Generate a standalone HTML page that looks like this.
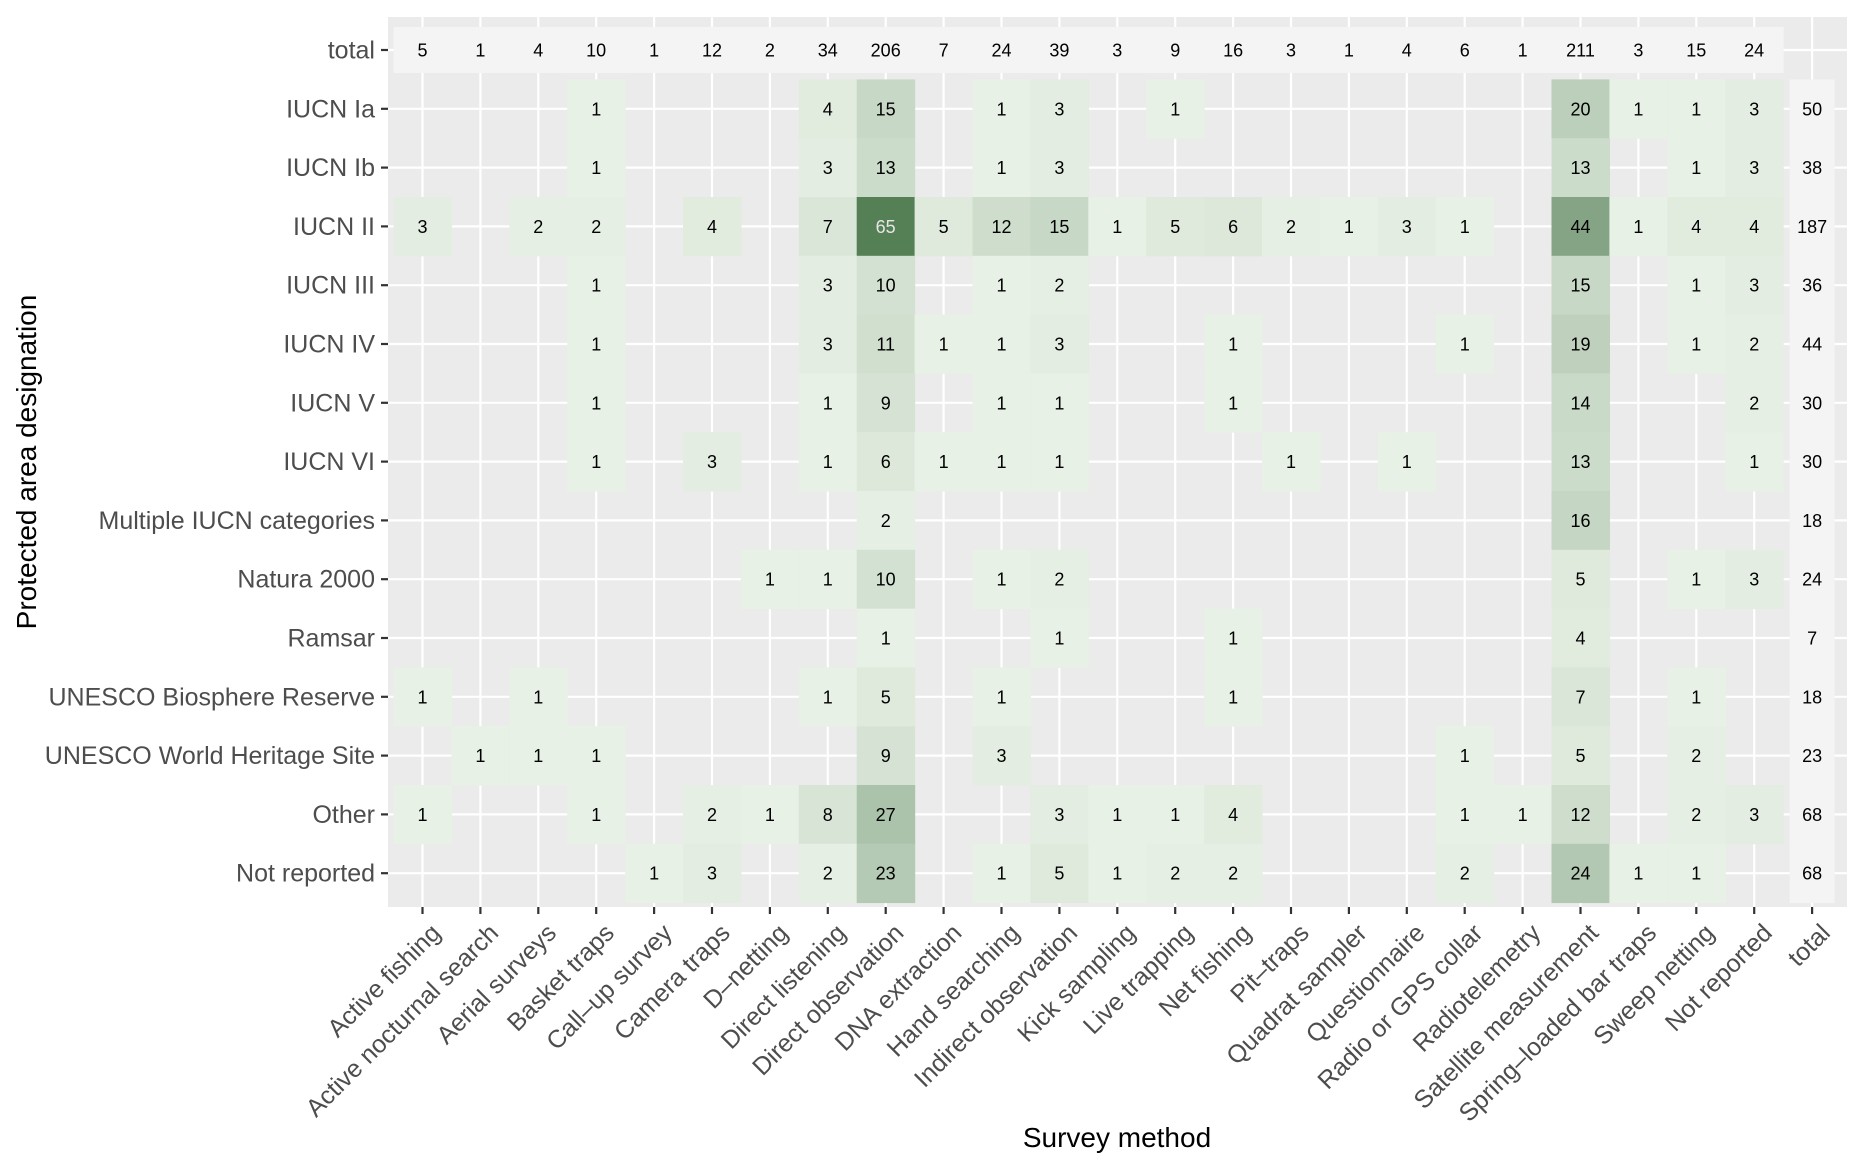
<!DOCTYPE html>
<html><head><meta charset="utf-8"><style>
html,body{margin:0;padding:0;background:#fff;width:1862px;height:1170px;overflow:hidden}
svg{display:block;font-family:"Liberation Sans",sans-serif}
</style></head><body>
<svg id="s" width="1862" height="1170" xmlns="http://www.w3.org/2000/svg"></svg>
<script>
const cols=["Active fishing","Active nocturnal search","Aerial surveys","Basket traps","Call\u2013up survey","Camera traps","D\u2013netting","Direct listening","Direct observation","DNA extraction","Hand searching","Indirect observation","Kick sampling","Live trapping","Net fishing","Pit\u2013traps","Quadrat sampler","Questionnaire","Radio or GPS collar","Radiotelemetry","Satellite measurement","Spring\u2013loaded bar traps","Sweep netting","Not reported","total"];
const rows=["total","IUCN Ia","IUCN Ib","IUCN II","IUCN III","IUCN IV","IUCN V","IUCN VI","Multiple IUCN categories","Natura 2000","Ramsar","UNESCO Biosphere Reserve","UNESCO World Heritage Site","Other","Not reported"];
const totalRow=[5,1,4,10,1,12,2,34,206,7,24,39,3,9,16,3,1,4,6,1,211,3,15,24];
const data=[
[{3:1,7:4,8:15,10:1,11:3,13:1,20:20,21:1,22:1,23:3},50],
[{3:1,7:3,8:13,10:1,11:3,20:13,22:1,23:3},38],
[{0:3,2:2,3:2,5:4,7:7,8:65,9:5,10:12,11:15,12:1,13:5,14:6,15:2,16:1,17:3,18:1,20:44,21:1,22:4,23:4},187],
[{3:1,7:3,8:10,10:1,11:2,20:15,22:1,23:3},36],
[{3:1,7:3,8:11,9:1,10:1,11:3,14:1,18:1,20:19,22:1,23:2},44],
[{3:1,7:1,8:9,10:1,11:1,14:1,20:14,23:2},30],
[{3:1,5:3,7:1,8:6,9:1,10:1,11:1,15:1,17:1,20:13,23:1},30],
[{8:2,20:16},18],
[{6:1,7:1,8:10,10:1,11:2,20:5,22:1,23:3},24],
[{8:1,11:1,14:1,20:4},7],
[{0:1,2:1,7:1,8:5,10:1,14:1,20:7,22:1},18],
[{1:1,2:1,3:1,8:9,10:3,18:1,20:5,22:2},23],
[{0:1,3:1,5:2,6:1,7:8,8:27,11:3,12:1,13:1,14:4,18:1,19:1,20:12,22:2,23:3},68],
[{4:1,5:3,7:2,8:23,10:1,11:5,12:1,13:2,14:2,18:2,20:24,21:1,22:1},68]];
const X0=422.5,DX=57.9,Y0=50,DY=58.8,W=58,H=58.8;
const cx=i=>X0+i*DX, cy=j=>Y0+j*DY;
const lo=[0xe8,0xf1,0xe6],hi=[0x55,0x7f,0x55];
function col(v){const f=(v-1)/64;return "rgb("+lo.map((a,k)=>Math.round(a+(hi[k]-a)*f)).join(",")+")";}
let s="";
const FS=18;
s+=`<rect x="388" y="17" width="1459" height="890" fill="#ebebeb"/>`;
for(let i=0;i<25;i++)s+=`<line x1="${cx(i)}" y1="17" x2="${cx(i)}" y2="907" stroke="#fff" stroke-width="2.2"/>`;
for(let j=0;j<15;j++)s+=`<line x1="388" y1="${cy(j)}" x2="1847" y2="${cy(j)}" stroke="#fff" stroke-width="2.2"/>`;
for(let i=0;i<24;i++){s+=`<rect x="${cx(i)-DX/2}" y="${cy(0)-23}" width="${DX+0.5}" height="46" fill="#f4f4f4"/>`;}
for(let j=1;j<15;j++){s+=`<rect x="${cx(24)-22.5}" y="${cy(j)-DY/2}" width="45" height="${DY+0.5}" fill="#f4f4f4"/>`;}
for(let i=0;i<24;i++)s+=`<text x="${cx(i)}" y="${cy(0)+6.5}" font-size="${FS}" text-anchor="middle" fill="#000">${totalRow[i]}</text>`;
data.forEach((r,k)=>{const j=k+1;
 for(const key in r[0]){const i=+key,v=r[0][key];
  s+=`<rect x="${cx(i)-W/2}" y="${cy(j)-H/2}" width="${W+0.5}" height="${H+0.5}" fill="${col(v)}"/>`;}
});
data.forEach((r,k)=>{const j=k+1;
 for(const key in r[0]){const i=+key,v=r[0][key];
  s+=`<text x="${cx(i)}" y="${cy(j)+6.5}" font-size="${FS}" text-anchor="middle" fill="${v>50?'#e6e6e6':'#000'}">${v}</text>`;}
 s+=`<text x="${cx(24)}" y="${cy(j)+6.5}" font-size="${FS}" text-anchor="middle" fill="#000">${r[1]}</text>`;
});
rows.forEach((t,j)=>{s+=`<line x1="381" y1="${cy(j)}" x2="388" y2="${cy(j)}" stroke="#333" stroke-width="2.2"/>`;
 s+=`<text x="375" y="${cy(j)+8.5}" font-size="25" text-anchor="end" fill="#4d4d4d">${t}</text>`;});
cols.forEach((t,i)=>{s+=`<line x1="${cx(i)}" y1="907" x2="${cx(i)}" y2="914" stroke="#333" stroke-width="2.2"/>`;
 const x=cx(i)+7,y=922;
 s+=`<text x="${x}" y="${y}" font-size="25" text-anchor="end" dominant-baseline="hanging" transform="rotate(-45 ${x} ${y})" fill="#4d4d4d">${t}</text>`;});
s+=`<text x="1117" y="1147" font-size="28" text-anchor="middle" fill="#000">Survey method</text>`;
s+=`<text x="0" y="0" font-size="28" text-anchor="middle" fill="#000" transform="translate(36 462) rotate(-90)">Protected area designation</text>`;
document.getElementById("s").innerHTML=s;
</script>
</body></html>
